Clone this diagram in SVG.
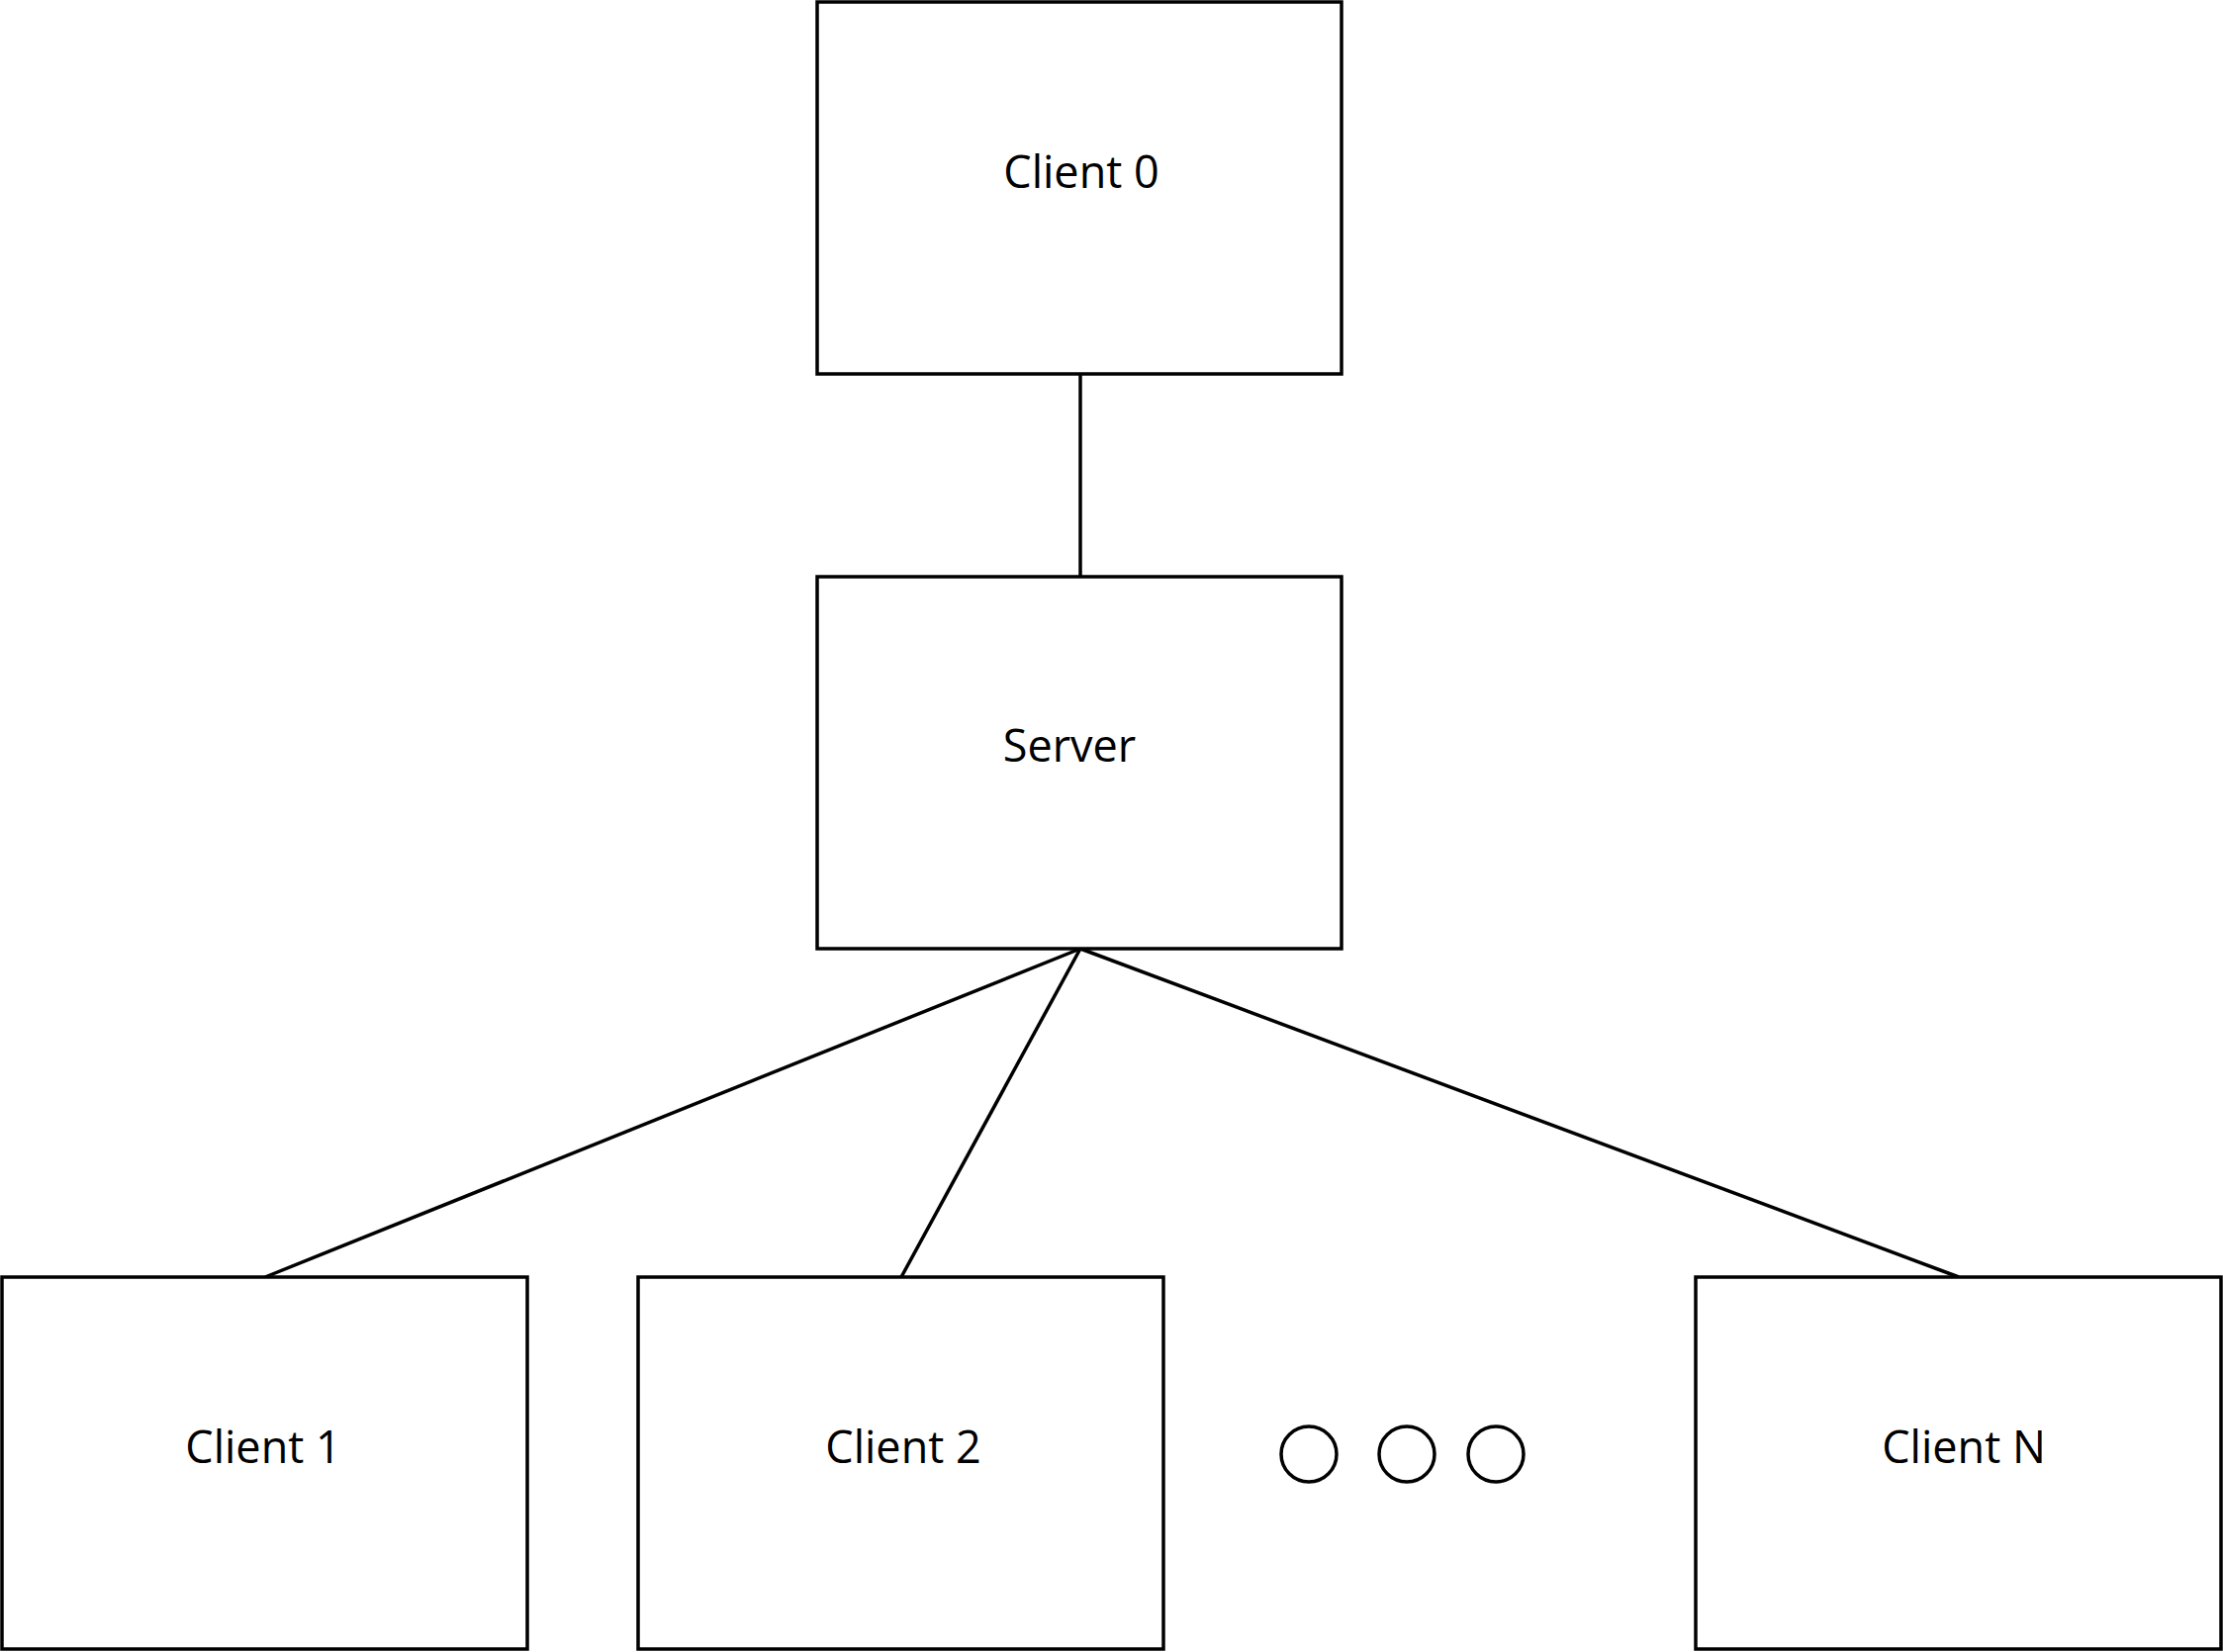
<svg xmlns="http://www.w3.org/2000/svg" width="2247" height="1670" viewBox="0 0 2247 1670">
<style>
.box{fill:#fff;stroke:#000;stroke-width:3.5}
.lbl{font-family:"Open Sans","Liberation Sans",sans-serif;font-size:45px;fill:#000;text-anchor:middle}
.conn{stroke:#000;stroke-width:3.5;fill:none}
.dot{fill:#fff;stroke:#000;stroke-width:3.5}
</style>
<rect width="2247" height="1670" fill="#fff"/>
<g id="connectors">
<line class="conn" x1="1092" y1="378" x2="1092" y2="583"/>
<line class="conn" x1="1092" y1="959" x2="268" y2="1291"/>
<line class="conn" x1="1092" y1="959" x2="911" y2="1291"/>
<line class="conn" x1="1092" y1="959" x2="1980" y2="1291"/>
</g>
<g id="client0">
<rect class="box" x="826" y="2" width="530" height="376"/>
<text class="lbl" x="1093" y="190">Client 0</text>
</g>
<g id="server">
<rect class="box" x="826" y="583" width="530" height="376"/>
<text class="lbl" x="1081" y="770">Server</text>
</g>
<g id="client1">
<rect class="box" x="2" y="1291" width="531" height="376"/>
<text class="lbl" x="266" y="1479">Client 1</text>
</g>
<g id="client2">
<rect class="box" x="645" y="1291" width="531" height="376"/>
<text class="lbl" x="913" y="1479">Client 2</text>
</g>
<g id="ellipsis">
<circle class="dot" cx="1323" cy="1470" r="28"/>
<circle class="dot" cx="1422" cy="1470" r="28"/>
<circle class="dot" cx="1512" cy="1470" r="28"/>
</g>
<g id="clientN">
<rect class="box" x="1714" y="1291" width="531" height="376"/>
<text class="lbl" x="1985" y="1479">Client N</text>
</g>
</svg>
